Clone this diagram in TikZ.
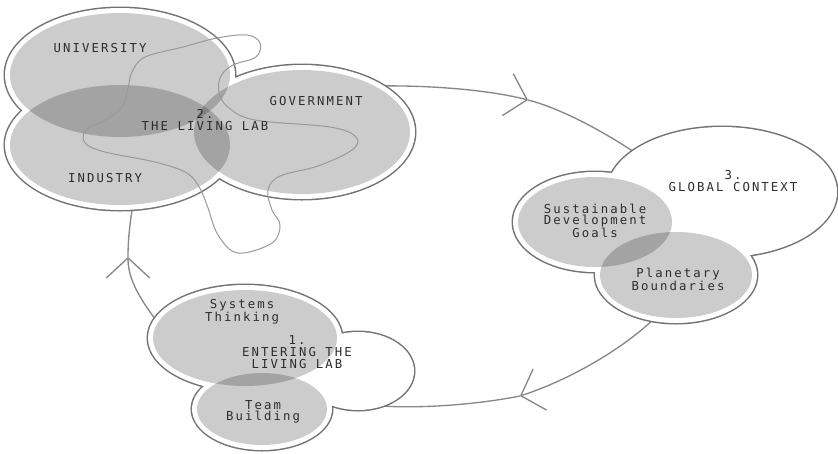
\documentclass[tikz,border=0pt]{standalone}
\usepackage{fontspec}
\usepackage{tikz}
\usetikzlibrary{arrows.meta}
\newfontfamily\labfont[LetterSpace=17]{DejaVu Sans Mono}
\definecolor{rimgray}{RGB}{115,115,115}
\definecolor{loopgray}{RGB}{135,135,135}
\definecolor{inkgray}{RGB}{45,45,45}
\tikzset{>={Straight Barb[length=6mm,width=13mm]},
  halo/.style={fill=white, preaction={draw=rimgray, line width=0.9mm}},
  blob/.style={fill=black, fill opacity=0.2},
  tag/.style={text=inkgray, font=\labfont\fontsize{10.5}{9.9}\selectfont, align=center, inner sep=0pt},
  loopline/.style={draw=loopgray, line width=0.4mm},
  squiggle/.style={draw=loopgray!85, line width=0.3mm}}

\begin{document}
\begin{tikzpicture}[x=0.3mm, y=-0.3mm]
\useasboundingbox (0,0) rectangle (838,453);

% bubble centres
\coordinate (uni) at (120,75);
\coordinate (ind) at (120,145);
\coordinate (gov) at (302,132);
\coordinate (sys) at (245,338);
\coordinate (team) at (262,409);
\coordinate (enter) at (358,371);
\coordinate (sdg) at (595,222);
\coordinate (pb) at (676,275);
\coordinate (glob) at (722,192);

% ends of the cycle
\coordinate (gov-out) at (375,86);
\coordinate (glob-in) at (640,156);
\coordinate (pb-out) at (658,315);
\coordinate (enter-in) at (365,404);
\coordinate (sys-out) at (165,332);
\coordinate (ind-in) at (134,198);
\coordinate (a1) at (528,100);
\coordinate (a2) at (520,396);
\coordinate (a3) at (128,257);

\draw[loopline, ->] (gov-out) .. controls (430,85) and (490,90) .. (a1);
\draw[loopline] (a1) .. controls (560,108) and (605,132) .. (glob-in);
\draw[loopline, ->] (pb-out) .. controls (628,345) and (575,378) .. (a2);
\draw[loopline] (a2) .. controls (470,406) and (400,410) .. (enter-in);
\draw[loopline, ->] (sys-out) .. controls (140,300) and (128,280) .. (a3);
\draw[loopline] (a3) .. controls (128,238) and (130,222) .. (ind-in);

% 2. the living lab
\path[halo] (uni) ellipse (115 and 67) (ind) ellipse (115 and 65) (gov) ellipse (113 and 67);
\fill[blob] (uni) ellipse (110 and 62);
\fill[blob] (ind) ellipse (110 and 60);
\fill[blob] (gov) ellipse (108 and 62);
\draw[squiggle] plot[smooth cycle, tension=0.6] coordinates {(238,253) (218,235) (207,205) (198,185) (185,172) (155,162) (105,152) (85,143) (86,130) (105,120) (122,107) (128,88) (132,72) (145,57) (183,47) (217,38) (247,35) (260,43) (256,57) (233,65) (221,76) (219,92) (228,107) (255,120) (330,127) (356,137) (352,150) (318,166) (280,176) (268,190) (272,210) (280,225) (272,243)};

% 3. global context
\path[halo] (glob) ellipse (115 and 65) (sdg) ellipse (82 and 50) (pb) ellipse (81 and 48);
\fill[blob] (sdg) ellipse (77 and 45);
\fill[blob] (pb) ellipse (76 and 43);

% 1. entering the living lab
\path[halo] (enter) ellipse (56 and 39) (sys) ellipse (97 and 53) (team) ellipse (70 and 41);
\fill[blob] (sys) ellipse (92 and 48);
\fill[blob] (team) ellipse (65 and 36);

\node[tag] (t-uni) at (100,48) {UNIVERSITY};
\node[tag] (t-gov) at (316,101) {GOVERNMENT};
\node[tag] (t-ind) at (105,178) {INDUSTRY};
\node[tag] (t-lab) at (205,120) {2.\\THE LIVING LAB};
\node[tag] (t-glob) at (733,181) {3.\\GLOBAL CONTEXT};
\node[tag] (t-sdg) at (595,221) {Sustainable\\Development\\Goals};
\node[tag] (t-pb) at (678,279) {Planetary\\Boundaries};
\node[tag] (t-sys) at (242,312) {Systems\\Thinking};
\node[tag] (t-enter) at (297,352) {1.\\ENTERING THE\\LIVING LAB};
\node[tag] (t-team) at (263,412) {Team\\Building};
\end{tikzpicture}
\end{document}
